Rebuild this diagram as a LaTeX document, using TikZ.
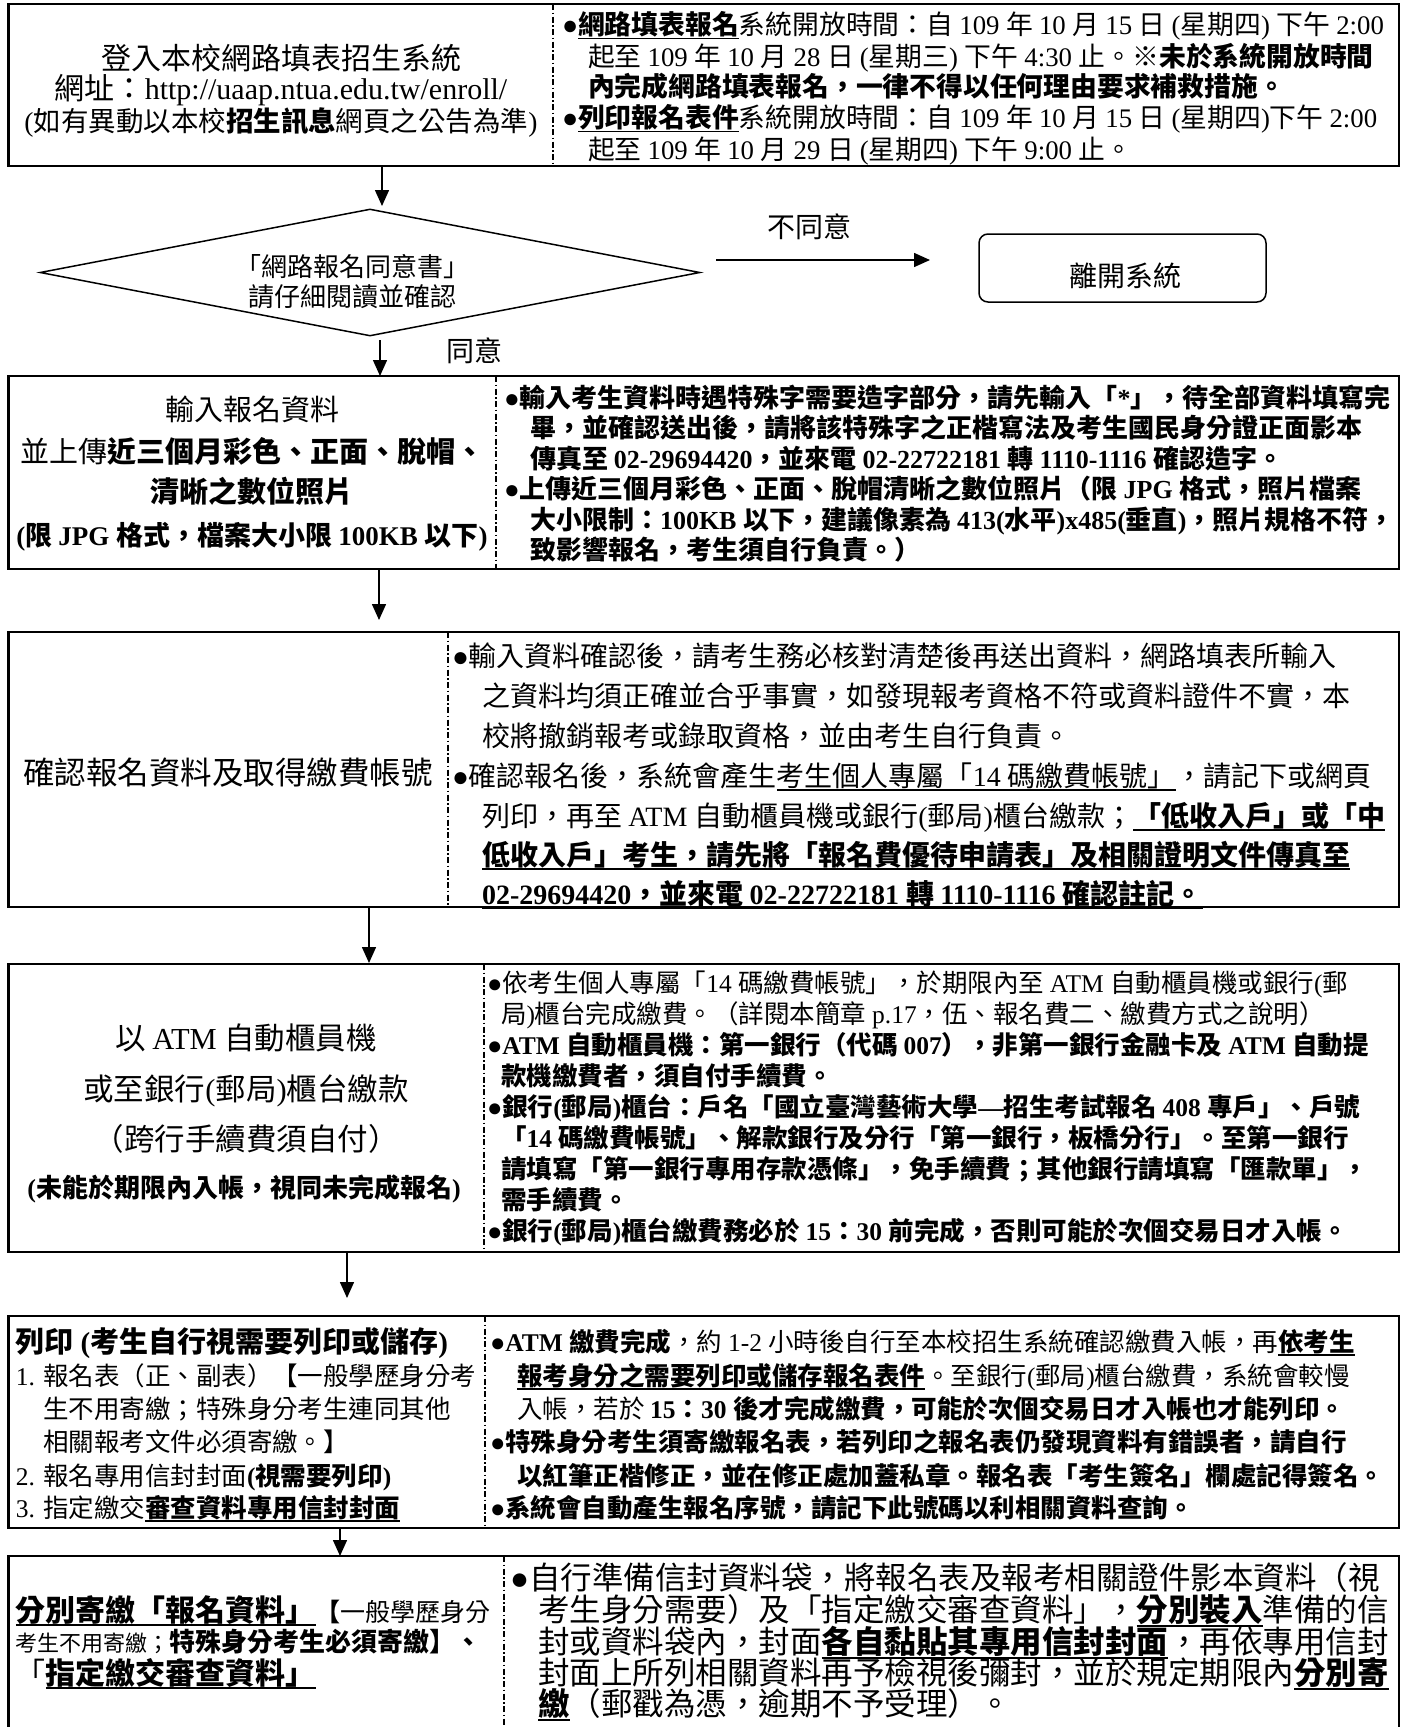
\documentclass[tikz,border=0pt]{standalone}
\usepackage{fontspec}
\setmainfont{Liberation Serif}
\newfontfamily\cjkfamily{Noto Sans CJK TC}
\usetikzlibrary{shapes.geometric,arrows.meta}
\newXeTeXintercharclass\CJKcls
\makeatletter
\newcommand\setCJKrange[2]{%
  \count@=#1\relax
  \loop\XeTeXcharclass\count@=\CJKcls
  \ifnum\count@<#2\relax\advance\count@\@ne\repeat}
\makeatother
\setCJKrange{"2E80}{"2FFF}
\setCJKrange{"3000}{"303F}
\setCJKrange{"3400}{"4DBF}
\setCJKrange{"4E00}{"9FFF}
\setCJKrange{"F900}{"FAFF}
\setCJKrange{"FF00}{"FFEF}
\XeTeXcharclass"203B=\CJKcls
\XeTeXinterchartoks 0 \CJKcls = {\cjkfamily}
\XeTeXinterchartoks 4095 \CJKcls = {\cjkfamily}
\XeTeXinterchartoks \CJKcls 0 = {\rmfamily}
\XeTeXinterchartoks 4095 0 = {\rmfamily}
\XeTeXinterchartokenstate=1
\newcommand\uln[1]{\setbox0\hbox{#1}\rlap{\rule[-0.17em]{\wd0}{0.06em}}\box0}
\tikzset{
  tl/.style={anchor=base west, inner sep=0pt, outer sep=0pt},
  box/.style={draw, line width=2.8pt, inner sep=0pt, outer sep=0pt},
  div/.style={line width=1.5pt, dash pattern=on 6pt off 2.5pt on 1.5pt off 2.5pt},
  arr/.style={line width=1.5pt, -{Triangle[width=14pt,length=16pt]}},
}
\newcommand\Ln[6][]{\node[tl,#1] (#2) at (#3,{#4+0.37*#5}) {\fontsize{#5pt}{#5pt}\selectfont #6};}
\begin{document}
\begin{tikzpicture}[x=1pt,y=-1pt]
\fill[white] (0,0) rectangle (1405,1727);
\useasboundingbox (0,0) rectangle (1405,1727);

% ---------- box 1 ----------
\node[box, minimum width=1390.5pt, minimum height=162pt] (b1) at (703.75,85) {};
\draw[div] (553,4) -- (553,166);
\Ln[anchor=base]{t1a}{281}{58}{30}{登入本校網路填表招生系統}
\Ln[anchor=base]{t1b}{281}{88}{30}{網址：http://uaap.ntua.edu.tw/enroll/}
\Ln[anchor=base]{t1c}{281}{121}{27.5}{(如有異動以本校\textbf{招生訊息}網頁之公告為準)}
\Ln{t1d}{562}{25}{26.8}{●\uln{\textbf{網路填表報名}}系統開放時間：自 109 年 10 月 15 日 (星期四) 下午 2:00}
\Ln{t1e}{588}{57}{26.8}{起至 109 年 10 月 28 日 (星期三) 下午 4:30 止。※\textbf{未於系統開放時間}}
\Ln{t1f}{588}{87}{26.8}{\textbf{內完成網路填表報名，一律不得以任何理由要求補救措施。}}
\Ln{t1g}{562}{118}{26.8}{●\uln{\textbf{列印報名表件}}系統開放時間：自 109 年 10 月 15 日 (星期四)下午 2:00}
\Ln{t1h}{588}{150}{26.8}{起至 109 年 10 月 29 日 (星期四) 下午 9:00 止。}

% ---------- decision ----------
\coordinate (a1e) at (382,206);
\draw[arr] (b1.south -| a1e) -- (a1e);
\node[diamond, draw, line width=1.5pt, minimum width=660pt, minimum height=127pt, inner sep=0pt] (dia) at (370,272.5) {};
\Ln[anchor=base]{d1}{352}{267}{26}{「網路報名同意書」}
\Ln[anchor=base]{d2}{352}{297}{26}{請仔細閱讀並確認}
\node[draw, line width=1.5pt, rounded corners=9pt, minimum width=287pt, minimum height=68pt, inner sep=0pt] (exit) at (1122.5,268) {};
\Ln[anchor=base]{exitt}{1125}{276}{28}{離開系統}
\coordinate (a7s) at (716,260);
\coordinate (a7e) at (930,260);
\draw[arr] (a7s) -- (a7e);
\Ln[anchor=base]{no}{809}{227}{28}{不同意}
\Ln[anchor=base]{yes}{474}{351}{28}{同意}

% ---------- box 2 ----------
\node[box, minimum width=1390.5pt, minimum height=193pt] (b2) at (703.75,472.5) {};
\coordinate (a2s) at (380,340);
\draw[arr] (a2s) -- (a2s |- b2.north);
\draw[div] (496,376) -- (496,569);
\Ln[anchor=base]{t2a}{252}{410}{29}{輸入報名資料}
\Ln[anchor=base]{t2b}{252}{452}{29}{並上傳\textbf{近三個月彩色、正面、脫帽、}}
\Ln[anchor=base]{t2c}{252}{492}{29}{\textbf{清晰之數位照片}}
\Ln[anchor=base]{t2d}{252}{536}{27}{\textbf{(限 JPG 格式，檔案大小限 100KB 以下)}}
\Ln{t2e}{504}{398}{26}{\textbf{●輸入考生資料時遇特殊字需要造字部分，請先輸入「*」，待全部資料填寫完}}
\Ln{t2f}{530}{428}{26}{\textbf{畢，並確認送出後，請將該特殊字之正楷寫法及考生國民身分證正面影本}}
\Ln{t2g}{530}{459}{26}{\textbf{傳真至 02-29694420，並來電 02-22722181 轉 1110-1116 確認造字。}}
\Ln{t2h}{504}{489}{26}{\textbf{●上傳近三個月彩色、正面、脫帽清晰之數位照片（限 JPG 格式，照片檔案}}
\Ln{t2i}{530}{520}{26}{\textbf{大小限制：100KB 以下，建議像素為 413(水平)x485(垂直)，照片規格不符，}}
\Ln{t2j}{530}{550}{26}{\textbf{致影響報名，考生須自行負責。）}}

% ---------- box 3 ----------
\node[box, minimum width=1390.5pt, minimum height=275pt] (b3) at (703.75,769.5) {};
\coordinate (a3e) at (379,620);
\draw[arr] (b2.south -| a3e) -- (a3e);
\draw[div] (448,632) -- (448,907);
\Ln[anchor=base]{t3a}{228}{773}{31.5}{確認報名資料及取得繳費帳號}
\Ln{t3b}{452}{656}{28}{●輸入資料確認後，請考生務必核對清楚後再送出資料，網路填表所輸入}
\Ln{t3c}{482}{696}{28}{之資料均須正確並合乎事實，如發現報考資格不符或資料證件不實，本}
\Ln{t3d}{482}{736}{28}{校將撤銷報考或錄取資格，並由考生自行負責。}
\Ln{t3e}{452}{776}{28}{●確認報名後，系統會產生\uln{考生個人專屬「14 碼繳費帳號」}，請記下或網頁}
\Ln{t3f}{482}{816}{28}{列印，再至 ATM 自動櫃員機或銀行(郵局)櫃台繳款；\uln{\textbf{「低收入戶」或「中}}}
\Ln{t3g}{482}{855}{28}{\uln{\textbf{低收入戶」考生，請先將「報名費優待申請表」及相關證明文件傳真至}}}
\Ln{t3h}{482}{894}{28}{\uln{\textbf{02-29694420，並來電 02-22722181 轉 1110-1116 確認註記。}}}

% ---------- box 4 ----------
\node[box, minimum width=1390.5pt, minimum height=288pt] (b4) at (703.75,1108) {};
\coordinate (a4e) at (369,963);
\draw[arr] (b3.south -| a4e) -- (a4e);
\draw[div] (484,964) -- (484,1252);
\Ln[anchor=base]{t4a}{246}{1038}{30.5}{以 ATM 自動櫃員機}
\Ln[anchor=base]{t4b}{246}{1089}{30.5}{或至銀行(郵局)櫃台繳款}
\Ln[anchor=base]{t4c}{246}{1139}{30.5}{（跨行手續費須自付）}
\Ln[anchor=base]{t4d}{244}{1188}{26}{\textbf{(未能於期限內入帳，視同未完成報名)}}
\Ln{t4e}{487}{983}{25.5}{●依考生個人專屬「14 碼繳費帳號」，於期限內至 ATM 自動櫃員機或銀行(郵}
\Ln{t4f}{501}{1014}{25.5}{局)櫃台完成繳費。（詳閱本簡章 p.17，伍、報名費二、繳費方式之說明）}
\Ln{t4g}{487}{1045}{25.5}{\textbf{●ATM 自動櫃員機：第一銀行（代碼 007），非第一銀行金融卡及 ATM 自動提}}
\Ln{t4h}{501}{1076}{25.5}{\textbf{款機繳費者，須自付手續費。}}
\Ln{t4i}{487}{1107}{25.5}{\textbf{●銀行(郵局)櫃台：戶名「國立臺灣藝術大學—招生考試報名 408 專戶」、戶號}}
\Ln{t4j}{501}{1138}{25.5}{\textbf{「14 碼繳費帳號」、解款銀行及分行「第一銀行，板橋分行」。至第一銀行}}
\Ln{t4k}{501}{1169}{25.5}{\textbf{請填寫「第一銀行專用存款憑條」，免手續費；其他銀行請填寫「匯款單」，}}
\Ln{t4l}{501}{1200}{25.5}{\textbf{需手續費。}}
\Ln{t4m}{487}{1231}{25.5}{\textbf{●銀行(郵局)櫃台繳費務必於 15：30 前完成，否則可能於次個交易日才入帳。}}

% ---------- box 5 ----------
\node[box, minimum width=1390.5pt, minimum height=212pt] (b5) at (703.75,1422) {};
\coordinate (a5e) at (347,1298);
\draw[arr] (b4.south -| a5e) -- (a5e);
\draw[div] (485,1316) -- (485,1528);
\Ln{t5a}{16}{1342}{29}{\textbf{列印 (考生自行視需要列印或儲存)}}
\Ln{t5n1}{16}{1376}{25.5}{1.}
\Ln{t5b}{43}{1376}{25.5}{報名表（正、副表）【一般學歷身分考}
\Ln{t5c}{43}{1409}{25.5}{生不用寄繳；特殊身分考生連同其他}
\Ln{t5d}{43}{1442}{25.5}{相關報考文件必須寄繳。】}
\Ln{t5n2}{16}{1476}{25.5}{2.}
\Ln{t5e}{43}{1476}{25.5}{報名專用信封封面\textbf{(視需要列印)}}
\Ln{t5n3}{16}{1508}{25.5}{3.}
\Ln{t5f}{43}{1508}{25.5}{指定繳交\uln{\textbf{審查資料專用信封封面}}}
\Ln{t5g}{490}{1342}{25.5}{●\textbf{ATM 繳費完成}，約 1-2 小時後自行至本校招生系統確認繳費入帳，再\uln{\textbf{依考生}}}
\Ln{t5h}{517}{1376}{25.5}{\uln{\textbf{報考身分之需要列印或儲存報名表件}}。至銀行(郵局)櫃台繳費，系統會較慢}
\Ln{t5i}{517}{1409}{25.5}{入帳，若於 \textbf{15：30 後才完成繳費，可能於次個交易日才入帳也才能列印。}}
\Ln{t5j}{490}{1442}{25.5}{\textbf{●特殊身分考生須寄繳報名表，若列印之報名表仍發現資料有錯誤者，請自行}}
\Ln{t5k}{517}{1476}{25.5}{\textbf{以紅筆正楷修正，並在修正處加蓋私章。報名表「考生簽名」欄處記得簽名。}}
\Ln{t5l}{490}{1508}{25.5}{\textbf{●系統會自動產生報名序號，請記下此號碼以利相關資料查詢。}}

% ---------- box 6 ----------
\coordinate (a6e) at (340,1556);
\draw[arr] (b5.south -| a6e) -- (a6e);
\draw[line width=2.8pt] (8.5,1727) -- (8.5,1556) -- (1399,1556) -- (1399,1727);
\draw[div] (504,1556) -- (504,1727);
\Ln{t6a}{16}{1610}{30}{\uln{\textbf{分別寄繳「報名資料」}}{\fontsize{25pt}{25pt}\selectfont\textbf{【}一般學歷身分}}
\Ln{t6b}{16}{1642}{26}{{\fontsize{22pt}{22pt}\selectfont 考生不用寄繳；}\textbf{特殊身分考生必須寄繳】、}}
\Ln{t6c}{16}{1673}{30}{「\uln{\textbf{指定繳交審查資料」}}}
\Ln{t6d}{510}{1578}{31.5}{●自行準備信封資料袋，將報名表及報考相關證件影本資料（視}
\Ln{t6e}{538}{1610}{31.5}{考生身分需要）及「指定繳交審查資料」，\uln{\textbf{分別裝入}}準備的信}
\Ln{t6f}{538}{1642}{31.5}{封或資料袋內，封面\uln{\textbf{各自黏貼其專用信封封面}}，再依專用信封}
\Ln{t6g}{538}{1673}{31.5}{封面上所列相關資料再予檢視後彌封，並於規定期限內\uln{\textbf{分別寄}}}
\Ln{t6h}{538}{1704}{31.5}{\uln{\textbf{繳}}（郵戳為憑，逾期不予受理）。}
\end{tikzpicture}
\end{document}
